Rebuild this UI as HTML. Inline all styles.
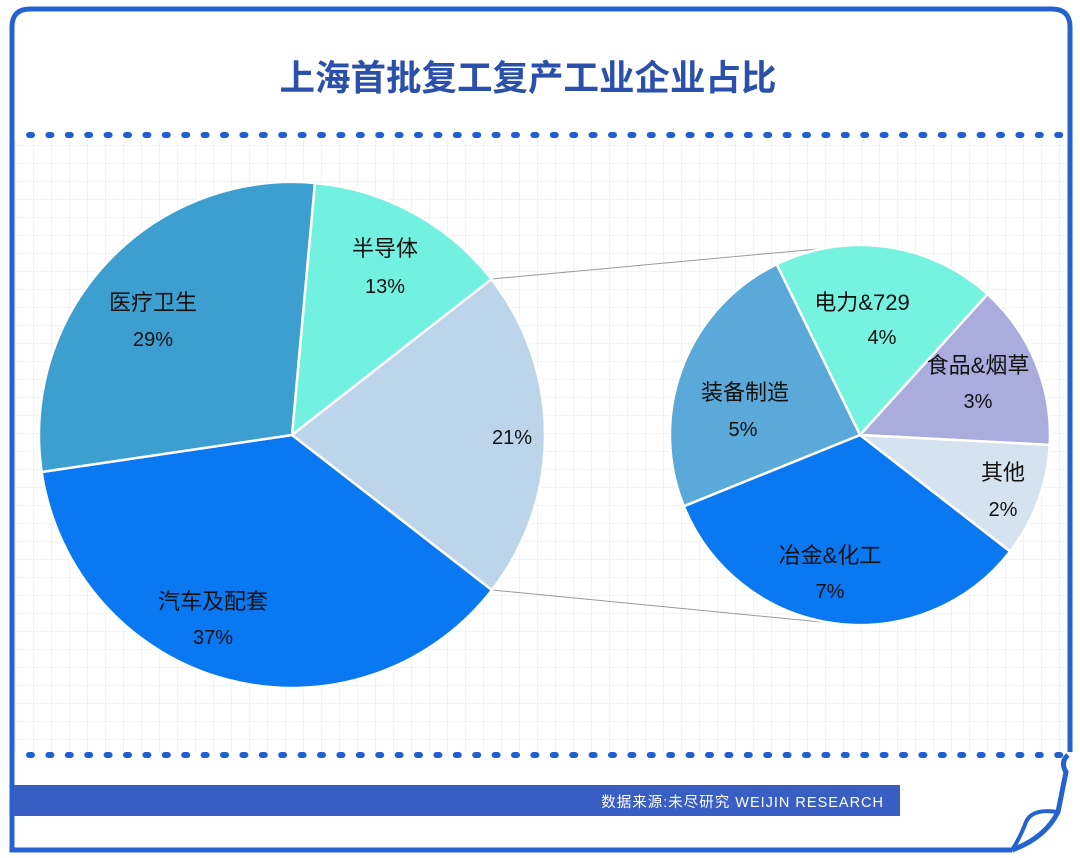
<!DOCTYPE html>
<html><head><meta charset="utf-8"><style>
html,body{margin:0;padding:0;background:#fff;}
svg{display:block;}
text{font-family:"Liberation Sans","Noto Sans CJK SC",sans-serif;}
</style></head><body>
<svg width="1080" height="858" viewBox="0 0 1080 858" xmlns="http://www.w3.org/2000/svg">
<defs>
<pattern id="g" width="18" height="18" patternUnits="userSpaceOnUse" x="15" y="145">
<path d="M0 0H18M0 0V18" stroke="#e2e8f1" stroke-width="1" fill="none"/>
</pattern>
</defs>
<rect x="14" y="140" width="1052" height="612" fill="url(#g)"/>
<!-- frame -->
<path d="M30 9 H1052 Q1070 9 1070 27 V752" fill="none" stroke="#2462d0" stroke-width="5"/>
<path d="M30 9 Q12 9 12 27 V850 H1012" fill="none" stroke="#2462d0" stroke-width="5"/>
<path d="M1068 755 Q1060 762 1066 772 L1058 812 Q1045 838 1012 850" fill="none" stroke="#2462d0" stroke-width="5"/>
<path d="M1058 812 Q1032 808 1026 822 Q1020 838 1012 850" fill="none" stroke="#2462d0" stroke-width="4"/>
<line x1="29" y1="135" x2="1062" y2="135" stroke="#1f5fd0" stroke-width="6" stroke-linecap="round" stroke-dasharray="3 16.4"/>
<line x1="29" y1="755" x2="1062" y2="755" stroke="#1f5fd0" stroke-width="6" stroke-linecap="round" stroke-dasharray="3 16.4"/>
<text x="528" y="90" text-anchor="middle" font-size="35.5" font-weight="bold" fill="#2a50ab">上海首批复工复产工业企业占比</text>
<rect x="14" y="785" width="886" height="31" fill="#3a5fc4"/>
<text x="884" y="807" text-anchor="end" font-size="14.5" fill="#fff" letter-spacing="1">数据来源:未尽研究 WEIJIN RESEARCH</text>
<!-- connectors -->
<line x1="491" y1="279" x2="818" y2="249" stroke="#999" stroke-width="1"/>
<line x1="492" y1="590" x2="852" y2="625" stroke="#999" stroke-width="1"/>
<!-- big pie -->
<g stroke="#fff" stroke-width="2.5">
<path d="M292 435 L314.9 183 A253 253 0 0 1 491.4 279.2 Z" fill="#72f1e1"/>
<path d="M292 435 L491.4 279.2 A253 253 0 0 1 491.9 590.1 Z" fill="#bcd5ea"/>
<path d="M292 435 L491.9 590.1 A253 253 0 0 1 41.7 472 Z" fill="#0a78f0"/>
<path d="M292 435 L41.7 472 A253 253 0 0 1 314.9 183 Z" fill="#3d9fd0"/>
</g>
<!-- small pie -->
<g stroke="#fff" stroke-width="2.5">
<path d="M860 435 L776.7 264.2 A190 190 0 0 1 987.6 294.2 Z" fill="#76f2e0"/>
<path d="M860 435 L987.6 294.2 A190 190 0 0 1 1049.7 444.9 Z" fill="#a9acdc"/>
<path d="M860 435 L1049.7 444.9 A190 190 0 0 1 1010.1 551.5 Z" fill="#d5e2f0"/>
<path d="M860 435 L1010.1 551.5 A190 190 0 0 1 683.8 506.2 Z" fill="#0a78f0"/>
<path d="M860 435 L683.8 506.2 A190 190 0 0 1 776.7 264.2 Z" fill="#5aa9d8"/>
</g>
<g font-size="22" fill="#111" text-anchor="middle">
<text x="153" y="310">医疗卫生</text><text x="153" y="346" font-size="20">29%</text>
<text x="385" y="256">半导体</text><text x="385" y="293" font-size="20">13%</text>
<text x="512" y="444" font-size="20">21%</text>
<text x="213" y="609">汽车及配套</text><text x="213" y="644" font-size="20">37%</text>
<text x="862" y="310">电力&amp;729</text><text x="882" y="344" font-size="20">4%</text>
<text x="978" y="373">食品&amp;烟草</text><text x="978" y="408" font-size="20">3%</text>
<text x="745" y="400">装备制造</text><text x="743" y="436" font-size="20">5%</text>
<text x="1003" y="480">其他</text><text x="1003" y="516" font-size="20">2%</text>
<text x="830" y="563">冶金&amp;化工</text><text x="830" y="598" font-size="20">7%</text>
</g>
</svg>
</body></html>
